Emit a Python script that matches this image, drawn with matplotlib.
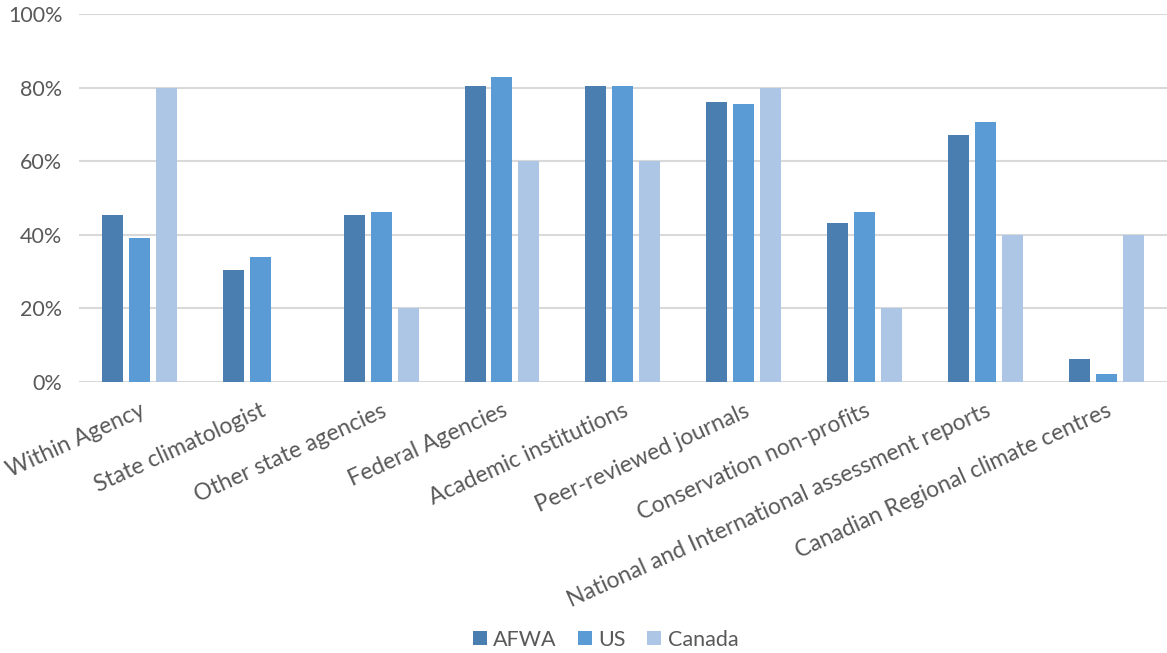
import matplotlib.pyplot as plt
import numpy as np
from matplotlib.ticker import PercentFormatter

categories = ['Within Agency', 'State climatologist', 'Other state agencies',
              'Federal Agencies', 'Academic institutions', 'Peer-reviewed journals',
              'Conservation non-profits', 'National and International assessment reports',
              'Canadian Regional climate centres']
afwa = [45.5, 30.3, 45.5, 80.3, 80.3, 76.0, 43.3, 67.2, 6.2]
us = [39.0, 34.0, 46.2, 83.0, 80.5, 75.6, 46.2, 70.6, 2.3]
canada = [80.0, 0.0, 20.0, 60.0, 60.0, 80.0, 20.0, 40.0, 40.0]
series = ['AFWA', 'US', 'Canada']
colors = ['#4A7EB0', '#5B9BD5', '#ADC6E5']

plt.rcParams['font.family'] = ['Lato', 'DejaVu Sans']

fig = plt.figure(figsize=(11.67, 6.53), dpi=100)
ax = fig.add_axes([0.0677, 0.415, 0.932, 0.5636])

x = np.arange(len(categories))
w = 0.174
step = 0.223
for i, (name, vals) in enumerate(zip(series, [afwa, us, canada])):
    ax.bar(x + (i - 1) * step, vals, width=w, color=colors[i], label=name, zorder=3)

ax.set_xlim(-0.5, len(categories) - 0.5)
ax.set_ylim(0, 100)
ax.set_yticks(np.arange(0, 101, 20))
ax.yaxis.set_major_formatter(PercentFormatter(decimals=0))
ax.grid(axis='y', color='#D9D9D9', linewidth=1.5, zorder=0)
for s in ax.spines.values():
    s.set_visible(False)
ax.tick_params(axis='both', length=0, colors='#595959')
ax.tick_params(axis='y', pad=12, labelsize=15.5)
ax.tick_params(axis='x', pad=13, labelsize=16.5)
ax.set_xticks(x)
ax.set_xticklabels(categories, rotation=24.5, ha='right', rotation_mode='anchor')

ax.legend(loc='center', bbox_to_anchor=(0.518 - 0.0677 / 2, -0.70), ncol=3,
          frameon=False, fontsize=15.5, labelcolor='#595959', handlelength=0.65,
          handleheight=0.65, handletextpad=0.3, columnspacing=1.0)

fig.savefig('out.png', dpi=100)
